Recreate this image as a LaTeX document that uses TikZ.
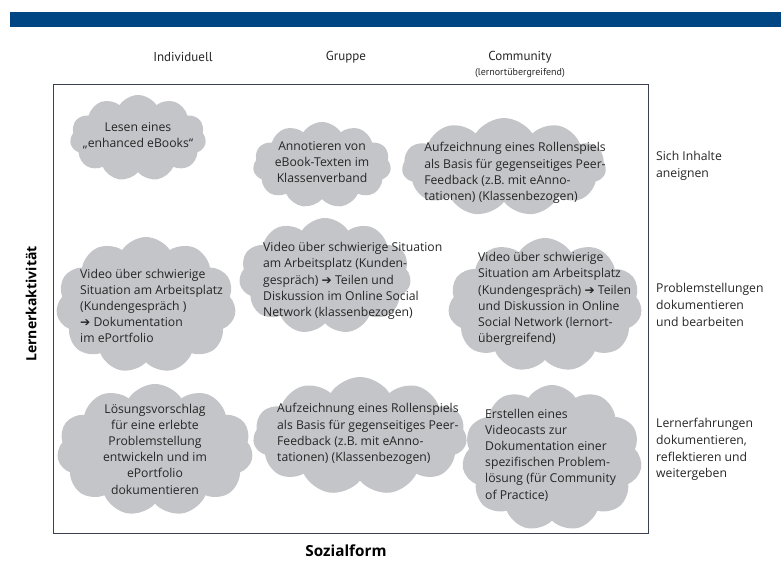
\documentclass[tikz,border=0pt]{standalone}
\usepackage{fontspec}
\setmainfont{Open Sans}
\newfontfamily\headfont{PT Sans}
\newfontfamily\arrowfont{DejaVu Sans}
\usetikzlibrary{shapes.symbols}
\definecolor{barblue}{HTML}{004684}
\definecolor{cloudgray}{HTML}{C4C5C9}
\definecolor{framegray}{HTML}{3A4050}
\newcommand{\arr}{{\arrowfont\bfseries ➔}}
\tikzset{
  cloudbg/.style={cloud, cloud puffs=11, cloud puff arc=115, cloud ignores aspect, fill=cloudgray, draw=none, inner sep=0pt},
  ctext/.style={font=\fontsize{12.2}{16.2}\selectfont, align=left, inner sep=0pt, text=black!85},
  ctextc/.style={ctext, align=center},
  head/.style={font=\headfont\fontsize{13}{16}\selectfont, inner sep=0pt, text=black!85},
  rowlab/.style={font=\fontsize{12.2}{16.8}\selectfont, align=left, anchor=north west, inner sep=0pt, text=black!85},
  axis/.style={font=\bfseries\fontsize{14}{16}\selectfont, inner sep=0pt}
}
\begin{document}
\begin{tikzpicture}[x=1pt,y=-1pt]
\useasboundingbox (0,0) rectangle (781,561);
\fill[barblue] (10,12) rectangle (781,27);
% headers
\node[head] (hind) at (183,57) {Individuell};
\node[head] (hgru) at (346,57) {Gruppe};
\node[head] (hcom) at (520,57) {Community};
\node[head, font=\headfont\fontsize{10}{11}\selectfont] (hcom2) at (520,73) {(lernortübergreifend)};
% frame
\node[draw=framegray, line width=1.4pt, minimum width=595pt, minimum height=449pt, inner sep=0pt, anchor=north west] (frame) at (53,84) {};
% row labels
\node[rowlab] (r1) at (656,151) {Sich Inhalte\\aneignen};
\node[rowlab] (r2) at (656,283) {Problemstellungen\\dokumentieren\\und bearbeiten};
\node[rowlab] (r3) at (656,418) {Lernerfahrungen\\dokumentieren,\\reflektieren und\\weitergeben};
% axis labels
\node[axis, rotate=90] (yax) at (31,304) {Lernerkaktivität};
\node[axis, font=\bfseries\fontsize{15.3}{17}\selectfont] (xax) at (346,551) {Sozialform};
% clouds
\node[cloudbg, minimum width=136pt, minimum height=86pt] (c1) at (138,138) {};
\node[cloudbg, minimum width=138pt, minimum height=86pt] (c2) at (322,165) {};
\node[cloudbg, minimum width=204pt, minimum height=98pt] (c3) at (504,167) {};
\node[cloudbg, minimum width=180pt, minimum height=136pt] (c4) at (146,305) {};
\node[cloudbg, minimum width=172pt, minimum height=116pt] (c5) at (325,276) {};
\node[cloudbg, minimum width=194pt, minimum height=134pt] (c6) at (545,305) {};
\node[cloudbg, minimum width=196pt, minimum height=132pt] (c7) at (155,450) {};
\node[cloudbg, minimum width=214pt, minimum height=118pt] (c8) at (360,436) {};
\node[cloudbg, minimum width=180pt, minimum height=146pt] (c9) at (552,458) {};
% texts
\node[ctextc] (t1) at (138,136) {Lesen eines\\„enhanced eBooks“};
\node[ctextc] (t2) at (322,162) {Annotieren von\\eBook-Texten im\\Klassenverband};
\node[ctext] (t3) at (515,173) {Aufzeichnung eines Rollenspiels\\als Basis für gegenseitiges Peer-\\Feedback (z.B. mit eAnno-\\tationen) (Klassenbezogen)};
\node[ctext, anchor=west] (t4) at (80,306) {Video über schwierige\\Situation am Arbeitsplatz\\(Kundengespräch~)\\\arr{} Dokumentation\\im ePortfolio};
\node[ctext, anchor=west] (t5) at (263,281) {Video über schwierige Situation\\am Arbeitsplatz (Kunden-\\gespräch) \arr{} Teilen und\\Diskussion im Online Social\\Network (klassenbezogen)};
\node[ctext, anchor=west] (t6) at (478,299) {Video über schwierige\\Situation am Arbeitsplatz\\(Kundengespräch) \arr{} Teilen\\und Diskussion in Online\\Social Network (lernort-\\übergreifend)};
\node[ctextc] (t7) at (155,449) {Lösungsvorschlag\\für eine erlebte\\Problemstellung\\entwickeln und im\\ePortfolio\\dokumentieren};
\node[ctext, anchor=west] (t8) at (277,434) {Aufzeichnung eines Rollenspiels\\als Basis für gegenseitiges Peer-\\Feedback (z.B. mit eAnno-\\tationen) (Klassenbezogen)};
\node[ctext, anchor=west] (t9) at (485,455) {Erstellen eines\\Videocasts zur\\Dokumentation einer\\spezifischen Problem-\\lösung (für Community\\of Practice)};
\end{tikzpicture}
\end{document}
